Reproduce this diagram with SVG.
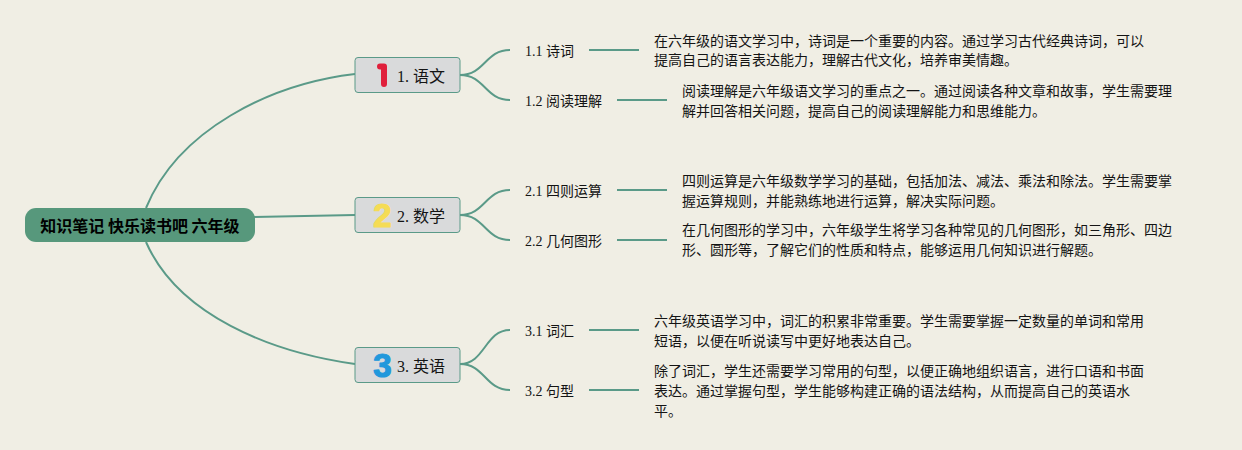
<svg xmlns="http://www.w3.org/2000/svg" width="1242" height="450" viewBox="0 0 1242 450">
<style>
text{font-family:"Liberation Serif","Noto Sans CJK SC",serif;fill:#141414}
.l{font-size:14px}
.b{font-size:16px}
.d{font-size:14px}
.c{fill:none;stroke:#5a9a88;stroke-width:2}
.t{fill:#d9dadb;stroke:#5a9a88;stroke-width:1}
.u{fill:none;stroke:#5a9a88;stroke-width:2}
.n{font-size:33px;font-weight:bold;text-anchor:middle;font-family:"Liberation Sans",sans-serif;stroke-width:1.2px;stroke-linejoin:round}
</style>
<rect width="1242" height="450" fill="#f0eee4"/>
<g id="connectors">
<path class="c" d="M146 208C178 130 270 84 355 74"/>
<path class="c" d="M254 217L355 215"/>
<path class="c" d="M146 242C178 315 270 352 355 364"/>
<path class="c" d="M460 75C485 75 485 50 510 50"/>
<path class="c" d="M460 75C485 75 485 100 510 100"/>
<path class="c" d="M460 215C485 215 485 190 510 190"/>
<path class="c" d="M460 215C485 215 485 240 510 240"/>
<path class="c" d="M460 364C485 364 485 330 510 330"/>
<path class="c" d="M460 364C485 364 485 390 510 390"/>
<path class="u" d="M589 50H639"/>
<path class="u" d="M617 100H667"/>
<path class="u" d="M617 190H667"/>
<path class="u" d="M617 240H667"/>
<path class="u" d="M589 330H639"/>
<path class="u" d="M589 390H639"/>
</g>
<g id="root">
<rect x="25" y="208" width="230" height="34" rx="11" fill="#57987c"/>
<text x="140" y="232" text-anchor="middle" font-size="16" font-weight="bold" style="fill:#000;font-family:'Noto Sans CJK SC',sans-serif">知识笔记 快乐读书吧 六年级</text>
</g>
<g id="topic1">
<rect class="t" x="355" y="57.500" width="105" height="35" rx="3"/>
<path d="M380 66.500H384V84" fill="none" stroke="#e0203c" stroke-width="6" stroke-linecap="round" stroke-linejoin="round"/>
<text class="b" x="397" y="82">1. 语文</text>
</g>
<g id="topic2">
<rect class="t" x="355" y="197.500" width="105" height="35" rx="3"/>
<text class="n" x="382.500" y="226.500" style="fill:#f5dc55;stroke:#f5dc55">2</text>
<text class="b" x="397" y="222">2. 数学</text>
</g>
<g id="topic3">
<rect class="t" x="355" y="347.500" width="105" height="35" rx="3"/>
<text class="n" x="382.500" y="376.500" style="fill:#2198dc;stroke:#2198dc">3</text>
<text class="b" x="397" y="372">3. 英语</text>
</g>
<g id="n11"><text class="l" x="525" y="56">1.1 诗词</text>
<text class="d" x="654" y="46">在六年级的语文学习中，诗词是一个重要的内容。通过学习古代经典诗词，可以</text>
<text class="d" x="654" y="65">提高自己的语言表达能力，理解古代文化，培养审美情趣。</text></g>
<g id="n12"><text class="l" x="525" y="106">1.2 阅读理解</text>
<text class="d" x="682" y="96">阅读理解是六年级语文学习的重点之一。通过阅读各种文章和故事，学生需要理</text>
<text class="d" x="682" y="116">解并回答相关问题，提高自己的阅读理解能力和思维能力。</text></g>
<g id="n21"><text class="l" x="525" y="196">2.1 四则运算</text>
<text class="d" x="682" y="186">四则运算是六年级数学学习的基础，包括加法、减法、乘法和除法。学生需要掌</text>
<text class="d" x="682" y="206">握运算规则，并能熟练地进行运算，解决实际问题。</text></g>
<g id="n22"><text class="l" x="525" y="246">2.2 几何图形</text>
<text class="d" x="682" y="235">在几何图形的学习中，六年级学生将学习各种常见的几何图形，如三角形、四边</text>
<text class="d" x="682" y="255">形、圆形等，了解它们的性质和特点，能够运用几何知识进行解题。</text></g>
<g id="n31"><text class="l" x="525" y="336">3.1 词汇</text>
<text class="d" x="654" y="326">六年级英语学习中，词汇的积累非常重要。学生需要掌握一定数量的单词和常用</text>
<text class="d" x="654" y="346">短语，以便在听说读写中更好地表达自己。</text></g>
<g id="n32"><text class="l" x="525" y="396">3.2 句型</text>
<text class="d" x="654" y="376">除了词汇，学生还需要学习常用的句型，以便正确地组织语言，进行口语和书面</text>
<text class="d" x="654" y="396">表达。通过掌握句型，学生能够构建正确的语法结构，从而提高自己的英语水</text>
<text class="d" x="654" y="416">平。</text></g>
</svg>
